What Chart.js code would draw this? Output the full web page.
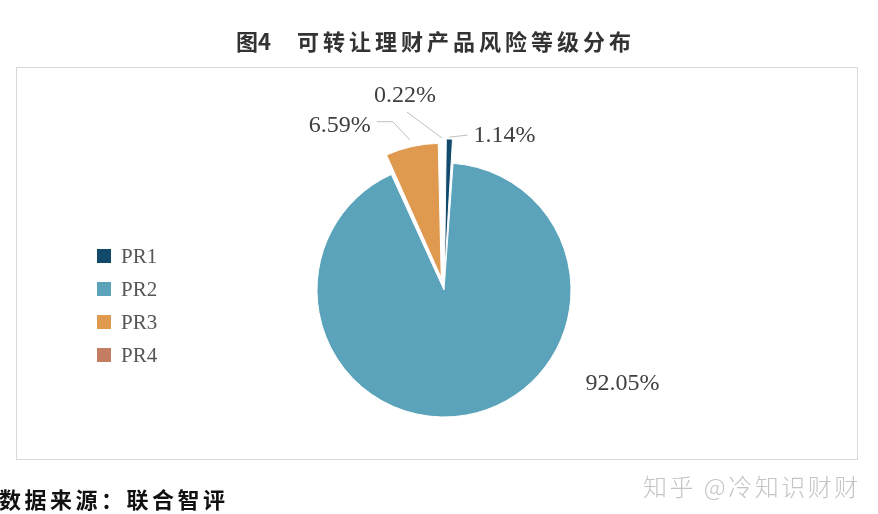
<!DOCTYPE html>
<html>
<head>
<meta charset="utf-8">
<script src="https://cdn.jsdelivr.net/npm/chart.js@4"></script>
<style>
  html, body { margin: 0; padding: 0; background: #fff; }
  #wrap { position: relative; width: 878px; height: 514px; overflow: hidden; }
  canvas { position: absolute; left: 0; top: 0; }
  .txt { position: absolute; white-space: nowrap; line-height: 1; }
  #t1 { left: 236px; top: 24px; font: bold 22px "Noto Sans CJK SC"; color: #333; }
  #t2 { left: 297px; top: 24px; font: bold 22px "Noto Sans CJK SC"; color: #333; letter-spacing: 4px; }
  #src { left: -1px; top: 482px; font: bold 22px "Noto Sans CJK SC"; color: #111; letter-spacing: 3.5px; }
  #wm { left: 643px; top: 468px; font: 300 24px "Noto Sans CJK SC"; color: #c4c4c4; letter-spacing: 2.5px; }
</style>
</head>
<body>
<div id="wrap">
  <canvas id="myChart" width="878" height="514"></canvas>
  <div class="txt" id="t1">图4</div>
  <div class="txt" id="t2">可转让理财产品风险等级分布</div>
  <div class="txt" id="src">数据来源：联合智评</div>
  <div class="txt" id="wm">知乎 @冷知识财财</div>
</div>
<script>
const categories = ['PR1', 'PR2', 'PR3', 'PR4'];
const shares = [1.14, 92.05, 6.59, 0.22];
const shareLabels = ['1.14%', '92.05%', '6.59%', '0.22%'];

const sliceColors = ['#124a6c', '#5aa3ba', '#e09a50', '#c47c62'];
// v4: outer edge of an arc moves out by offset / 2
const sliceOffsets = [50, 0, 50, 50];

// leader line points and text spot, relative to the outer edge of each slice
const labelSpots = [
  { line: [[0, -1], [18, -3]], text: [24, -2], align: 'left' },
  { line: [], text: [156, -31], align: 'center' },
  { line: [[-1, -2], [-18, -20], [-34, -20]], text: [-40, -16], align: 'right' },
  { line: [[-1, 0], [-36, -26]], text: [-38, -42], align: 'center' }
];

// Rahmen, Legende und Prozentwerte
const decoPlugin = {
  id: 'deco',
  beforeDraw(chart) {
    const ctx = chart.ctx;
    ctx.save();
    ctx.fillStyle = '#fff';
    ctx.fillRect(0, 0, chart.width, chart.height);
    ctx.strokeStyle = '#d9d9d9';
    ctx.lineWidth = 1;
    ctx.strokeRect(16.5, 67.5, 841, 392);
    ctx.restore();
  },
  afterDatasetsDraw(chart) {
    const ctx = chart.ctx;
    const meta = chart.getDatasetMeta(0);
    ctx.save();
    ctx.font = '24px "Liberation Serif"';
    ctx.textBaseline = 'middle';
    meta.data.forEach((arc, i) => {
      const p = arc.getProps(['x', 'y', 'startAngle', 'endAngle', 'outerRadius'], true);
      const mid = (p.startAngle + p.endAngle) / 2;
      const r = p.outerRadius + (arc.options.offset || 0) / 2;
      const ax = p.x + Math.cos(mid) * r;
      const ay = p.y + Math.sin(mid) * r;
      const spot = labelSpots[i];
      if (spot.line.length) {
        ctx.strokeStyle = '#bfbfbf';
        ctx.lineWidth = 1;
        ctx.beginPath();
        spot.line.forEach((pt, k) => {
          if (k === 0) ctx.moveTo(ax + pt[0], ay + pt[1]);
          else ctx.lineTo(ax + pt[0], ay + pt[1]);
        });
        ctx.stroke();
      }
      ctx.fillStyle = '#404040';
      ctx.textAlign = spot.align;
      ctx.fillText(shareLabels[i], ax + spot.text[0], ay + spot.text[1]);
    });

    // Legende links
    ctx.font = '21px "Liberation Serif"';
    ctx.textAlign = 'left';
    categories.forEach((name, i) => {
      const cy = 256 + i * 33;
      ctx.fillStyle = sliceColors[i];
      ctx.fillRect(97, cy - 7, 14, 14);
      ctx.fillStyle = '#555';
      ctx.fillText(name, 121, cy + 1);
    });
    ctx.restore();
  }
};

const ctx = document.getElementById('myChart').getContext('2d');

new Chart(ctx, {
  type: 'pie',
  data: {
    labels: categories,
    datasets: [{
      data: shares,
      backgroundColor: sliceColors,
      borderColor: '#ffffff',
      borderWidth: 1,
      offset: sliceOffsets,
      radius: 127
    }]
  },
  options: {
    responsive: false,
    animation: false,
    devicePixelRatio: 1,
    layout: {
      padding: { left: 200, right: 190, top: 120, bottom: 54 }
    },
    plugins: {
      legend: { display: false },
      tooltip: { enabled: false }
    }
  },
  plugins: [decoPlugin]
});
</script>
</body>
</html>
